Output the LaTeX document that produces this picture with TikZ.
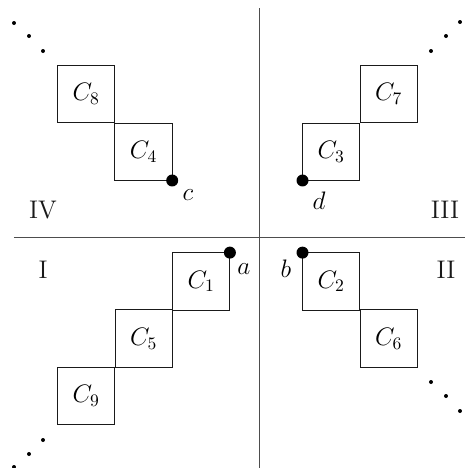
\documentclass[tikz,border=0pt]{standalone}
\usepackage{amsmath,amssymb}
\usetikzlibrary{positioning,calc}
\definecolor{ink}{HTML}{1A1A1A}
\definecolor{axis}{HTML}{4D4D4D}

\begin{document}
\begin{tikzpicture}[x=0.02cm, y=-0.02cm, font=\fontsize{14.5}{17}\selectfont,
  cell/.style={draw=ink, line width=0.55pt, minimum size=1.148cm, inner sep=0pt, outer sep=0pt},
  corner/.style={circle, fill=black, inner sep=0pt, minimum size=0.24cm},
  tiny/.style={circle, fill=black, inner sep=0pt, minimum size=0.08cm},
  axisline/.style={draw=axis, line width=0.75pt},
  quad/.style={text=ink}]
\useasboundingbox (0,0) rectangle (465,468);
% ---------------- axes
\coordinate (top) at (259.3,8);
\coordinate (bot) at (259.3,468);
\coordinate (lft) at (14,237.3);
\coordinate (rgt) at (465,237.3);
\draw[axisline] (top) -- (bot);
\draw[axisline] (lft) -- (rgt);
% ---------------- cells
\node[cell] (c8) at (86.2,94.2) {$C_8$};
\node[cell] (c4) at (143.5,151.8) {$C_4$};
\node[cell] (c7) at (388.7,94.2) {$C_7$};
\node[cell] (c3) at (331.2,151.8) {$C_3$};
\node[cell] (c1) at (201.2,281.3) {$C_1$};
\node[cell] (c5) at (143.7,338.6) {$C_5$};
\node[cell] (c9) at (86.2,396) {$C_9$};
\node[cell] (c2) at (331.2,281.3) {$C_2$};
\node[cell] (c6) at (388.7,338.6) {$C_6$};
% ---------------- corner points
\node[corner] (pa) at (c1.north east) {};
\node[corner] (pb) at (c2.north west) {};
\node[corner] (pc) at (c4.south east) {};
\node[corner] (pd) at (c3.south west) {};
\node (la) at (244,269) {$a$};
\node (lb) at (286,269) {$b$};
\node (lc) at (188,195) {$c$};
\node (ld) at (319,201) {$d$};
% ---------------- quadrants
\node[quad] (q4) at (43,210) {IV};
\node[quad] (q3) at (445,210) {III};
\node[quad] (q1) at (43,270) {I};
\node[quad] (q2) at (446,270) {II};
% ---------------- dots
\foreach \x/\y in {14/23, 29/36, 43/51, 431/51, 446/36, 460/22,
                   431/382, 446/396, 460/411, 43/440, 29/454, 14/467}
  \node[tiny] at (\x,\y) {};
\end{tikzpicture}
\end{document}
